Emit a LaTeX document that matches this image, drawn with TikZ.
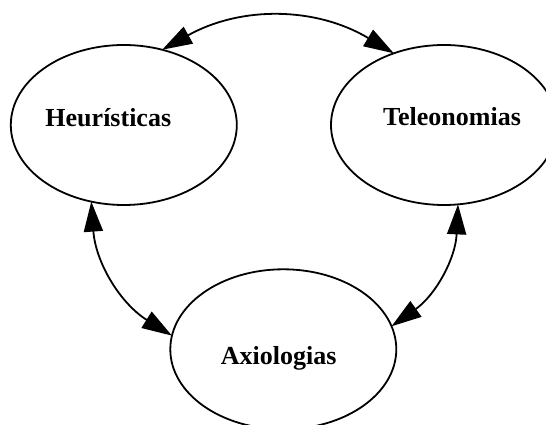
\documentclass[tikz,border=0pt]{standalone}
\usepackage{fontspec}
\setmainfont{Liberation Serif}
\usetikzlibrary{shapes.geometric,arrows.meta}
\begin{document}
\begin{tikzpicture}[x=1pt,y=1pt,
  ell/.style={draw,ellipse,line width=1.8pt,minimum width=226pt,minimum height=160pt,inner sep=0pt,outer sep=0pt},
  lbl/.style={anchor=base,inner sep=0pt,font=\bfseries\fontsize{26}{30}\selectfont},
  arr/.style={line width=1.8pt,{Triangle[length=30pt,width=19pt]}-{Triangle[length=30pt,width=19pt]}}]
\useasboundingbox (0,0) rectangle (546,425);
\clip (0,0) rectangle (546,425);
\node[ell] (H) at (123.8,300) {};
\node[ell] (T) at (444,300) {};
\node[ell] (A) at (283.3,75.7) {};
\node[lbl] (hT) at (108.3,298.3) {Heurísticas};
\node[lbl] (tT) at (452,299) {Teleonomias};
\node[lbl] (aT) at (278.7,60) {Axiologias};
\draw[arr] (H.63.2) to[bend left=30] (T.125.3);
\draw[arr] (H.247.7) to[bend right=27] (A.173.6);
\draw[arr] (T.280.1) to[bend left=26] (A.12);
\end{tikzpicture}
\end{document}
